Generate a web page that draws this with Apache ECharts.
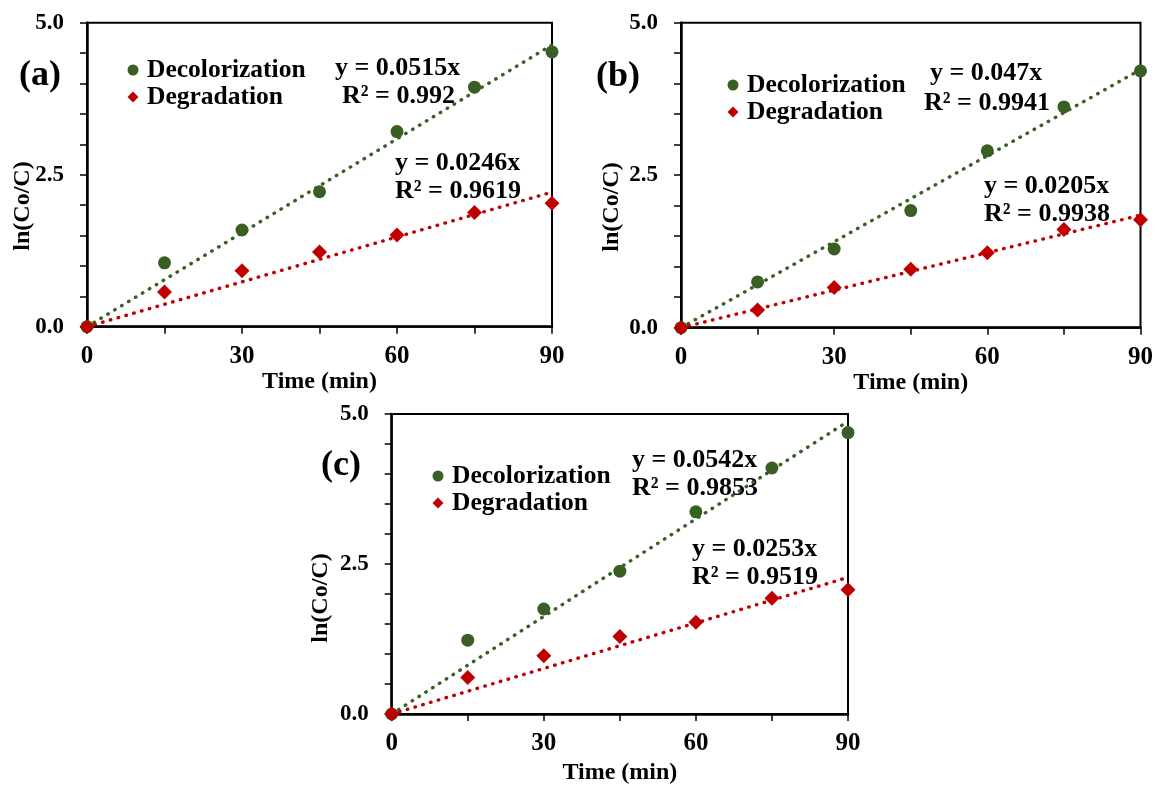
<!DOCTYPE html>
<html>
<head>
<meta charset="utf-8">
<script src="https://cdn.jsdelivr.net/npm/echarts@6/dist/echarts.min.js"></script>
<style>
html,body{margin:0;padding:0;background:#fff;}
#chart{width:1156px;height:786px;}
</style>
</head>
<body>
<div id="chart"></div>
<script>
// ---- data ----
const times = [0, 15, 30, 45, 60, 75, 90];
const decolA = [0, 1.05, 1.59, 2.22, 3.21, 3.94, 4.52];
const degA   = [0, 0.57, 0.92, 1.23, 1.51, 1.88, 2.03];
const decolB = [0, 0.75, 1.29, 1.92, 2.90, 3.62, 4.21];
const degB   = [0, 0.29, 0.66, 0.96, 1.23, 1.61, 1.77];
const decolC = [0, 1.23, 1.75, 2.38, 3.37, 4.10, 4.69];
const degC   = [0, 0.61, 0.97, 1.29, 1.53, 1.93, 2.07];
const slopesDecol = [0.0515, 0.047, 0.0542];
const slopesDeg   = [0.0246, 0.0205, 0.0253];
const eqDecol = ['0.0515', '0.047', '0.0542'];
const eqDeg   = ['0.0246', '0.0205', '0.0253'];
const r2Decol = ['0.992', '0.9941', '0.9853'];
const r2Deg   = ['0.9619', '0.9938', '0.9519'];
const panelLabels = ['(a)', '(b)', '(c)'];
const seriesNames = ['Decolorization', 'Degradation'];
const xTickValues = [0, 30, 60, 90];
const xTickLabels = ['0', '30', '60', '90'];
const yTickValues = [0, 2.5, 5];
const yTickLabels = ['0.0', '2.5', '5.0'];
const xTitle = 'Time (min)';
const yTitle = 'ln(Co/C)';

// ---- layout / style ----
const FONT = '"Liberation Serif", "Times New Roman", serif';
const GREEN = '#3A5F24';
const RED = '#C00000';
const decols = [decolA, decolB, decolC];
const degs = [degA, degB, degC];

const grids = [
  {left: 87, top: 22.7, right: 604, bottom: 459.3},
  {left: 681, top: 22.7, right: 15, bottom: 458.3},
  {left: 391.7, top: 414, right: 308, bottom: 70}
];
const nameGaps = [43, 43, 47];
const legendPos = [{left: 127.5, top: 56.5}, {left: 727.5, top: 71.5}, {left: 432.5, top: 462.5}];
const panelLabelPos = [[40, 76], [618, 77], [341, 466]];
const yTitlePos = [[23, 206], [612, 207], [321, 598]];
const eqDecolPos = [[335, 68, 342, 96], [930, 73, 924, 103], [632, 460, 632, 488]];
const eqDegPos = [[395, 163, 395, 191], [984, 186, 984, 214], [692, 549, 692, 577]];

function pickLabel(values, labels) {
  return function (v) {
    for (let i = 0; i < values.length; i++) {
      if (Math.abs(values[i] - v) < 1e-6) return labels[i];
    }
    return '';
  };
}

const xAxes = [], yAxes = [], series = [], legends = [], graphics = [];
for (let p = 0; p < 3; p++) {
  xAxes.push({
    type: 'value', gridIndex: p, min: 0, max: 90, interval: 15,
    name: xTitle, nameLocation: 'middle', nameGap: nameGaps[p],
    nameTextStyle: {fontFamily: FONT, fontWeight: 'bold', fontSize: 24, color: '#000'},
    axisLine: {show: true, onZero: false, lineStyle: {color: '#000', width: 2.5}},
    axisTick: {show: true, inside: false, length: 7, lineStyle: {color: '#000', width: 1.5}},
    axisLabel: {margin: 17, fontFamily: FONT, fontWeight: 'bold', fontSize: 25, color: '#000',
      formatter: pickLabel(xTickValues, xTickLabels)},
    splitLine: {show: false}
  });
  yAxes.push({
    type: 'value', gridIndex: p, min: 0, max: 5, interval: 0.5,
    axisLine: {show: true, onZero: false, lineStyle: {color: '#000', width: 2.5}},
    axisTick: {show: true, inside: false, length: 7, lineStyle: {color: '#000', width: 1.5}},
    axisLabel: {margin: 23, fontFamily: FONT, fontWeight: 'bold', fontSize: 23, color: '#000',
      formatter: pickLabel(yTickValues, yTickLabels)},
    splitLine: {show: false}
  });
  const dot = {type: [0.5, 7.6], width: 3.4, cap: 'round'};
  series.push({
    type: 'line', xAxisIndex: p, yAxisIndex: p, name: 'fitDecol' + p,
    data: [[0, 0], [90, slopesDecol[p] * 90]], showSymbol: false, silent: true,
    lineStyle: Object.assign({color: GREEN}, dot), z: 1
  });
  series.push({
    type: 'line', xAxisIndex: p, yAxisIndex: p, name: 'fitDeg' + p,
    data: [[0, 0], [90, slopesDeg[p] * 90]], showSymbol: false, silent: true,
    lineStyle: Object.assign({color: RED}, dot), z: 1
  });
  series.push({
    type: 'scatter', xAxisIndex: p, yAxisIndex: p, name: seriesNames[0],
    symbol: 'circle', symbolSize: 13, itemStyle: {color: GREEN, opacity: 1}, clip: false,
    data: times.map((t, i) => [t, decols[p][i]]), z: 3
  });
  series.push({
    type: 'scatter', xAxisIndex: p, yAxisIndex: p, name: seriesNames[1],
    symbol: 'diamond', symbolSize: 15, itemStyle: {color: RED, opacity: 1}, clip: false,
    data: times.map((t, i) => [t, degs[p][i]]), z: 4
  });
  legends.push({
    left: legendPos[p].left, top: legendPos[p].top, orient: 'vertical',
    padding: 0, itemGap: 0, itemWidth: 11, itemHeight: 11, selectedMode: false,
    data: seriesNames,
    itemStyle: {opacity: 1},
    textStyle: {fontFamily: FONT, fontWeight: 'bold', fontSize: 25.5, color: '#000', lineHeight: 27,
      padding: [0, 0, 0, 3.5]}
  });
  const txt = (s, x, y, size, align) => ({
    type: 'text', x: x, y: y, silent: true,
    style: {text: s, fontFamily: FONT, fontWeight: 'bold', fontSize: size, fill: '#000',
      align: align || 'left', verticalAlign: 'middle'}
  });
  graphics.push(txt(panelLabels[p], panelLabelPos[p][0], panelLabelPos[p][1], 36, 'center'));
  graphics.push(txt('y = ' + eqDecol[p] + 'x', eqDecolPos[p][0], eqDecolPos[p][1], 26));
  graphics.push(txt('R\u00b2 = ' + r2Decol[p], eqDecolPos[p][2], eqDecolPos[p][3], 26));
  graphics.push(txt('y = ' + eqDeg[p] + 'x', eqDegPos[p][0], eqDegPos[p][1], 26));
  graphics.push(txt('R\u00b2 = ' + r2Deg[p], eqDegPos[p][2], eqDegPos[p][3], 26));
  graphics.push({
    type: 'text', x: yTitlePos[p][0], y: yTitlePos[p][1], rotation: Math.PI / 2, silent: true,
    style: {text: yTitle, fontFamily: FONT, fontWeight: 'bold', fontSize: 24, fill: '#000',
      align: 'center', verticalAlign: 'middle'}
  });
}

const chart = echarts.init(document.getElementById('chart'), null, {renderer: 'canvas'});
chart.setOption({
  backgroundColor: '#fff',
  animation: false,
  grid: grids.map(g => Object.assign({show: true, borderColor: '#000', borderWidth: 2, backgroundColor: 'transparent'}, g)),
  xAxis: xAxes,
  yAxis: yAxes,
  legend: legends,
  series: series,
  graphic: graphics
});
</script>
</body>
</html>
